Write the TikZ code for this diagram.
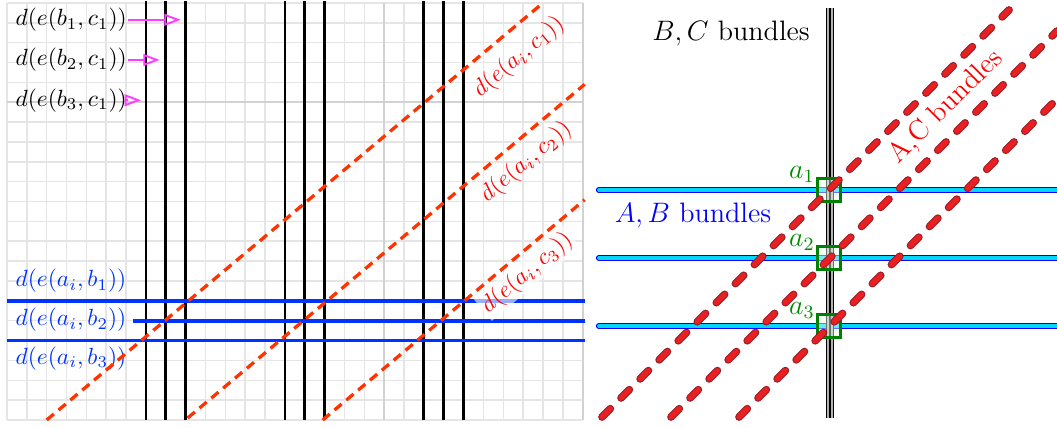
\documentclass[tikz,border=0pt]{standalone}
\usepackage{amsmath}
\usepackage{amssymb}
\usetikzlibrary{arrows.meta}

\definecolor{dashred}{RGB}{255,51,0}
\definecolor{bundleblue}{RGB}{0,51,255}
\definecolor{ptrpink}{RGB}{255,60,255}
\definecolor{acred}{RGB}{232,32,32}
\definecolor{acdark}{RGB}{150,30,45}
\definecolor{abcyan}{RGB}{0,215,255}

\tikzset{
  minorgrid/.style={gray!20, line width=0.65pt},
  majorgrid/.style={gray!35, line width=0.8pt},
  bcline/.style={black, line width=1.2pt},
  abline/.style={bundleblue, line width=1.6pt},
  acline/.style={dashred, line width=1.4pt, dash pattern=on 4pt off 2.6pt},
  ptr/.style={ptrpink, line width=0.8pt, -{Triangle[open,length=7pt,width=5pt]}, shorten >=1pt},
  lbl/.style={anchor=west, inner sep=0.5pt},
  abbundle/.style={draw=blue, double=abcyan, line width=0.55pt, double distance=1.6pt, line cap=round},
  acouter/.style={acdark, line width=3.3pt, line cap=round, dash pattern=on 5pt off 6.5pt},
  acinner/.style={acred, line width=2.3pt, line cap=round, dash pattern=on 5pt off 6.5pt},
  sqbox/.style={draw=green!50!black, fill=green!8, fill opacity=0.45, minimum size=0.345cm, inner sep=0pt, line width=0.9pt},
}

\begin{document}
\begin{tikzpicture}[x=0.015cm, y=0.015cm]
    \useasboundingbox (0,0) rectangle (1057,427);
    % left: distances on the grid
    \begin{scope}[shift={(0.105cm,0.105cm)}, x=0.29775cm, y=0.2979cm]
        \foreach \i in {0,...,29} \draw[minorgrid] (\i,0) -- (\i,21);
        \foreach \j in {0,...,21} \draw[minorgrid] (0,\j) -- (29,\j);
        \foreach \i in {9,19,29} \draw[majorgrid] (\i,0) -- (\i,21);
        \foreach \j in {6,16} \draw[majorgrid] (0,\j) -- (29,\j);
        % B,C lines
        \foreach \i in {7,8,9,14,15,16,21,22,23} \draw[bcline] (\i,0) -- (\i,21.1);
        \coordinate (v7) at (6.87,0);
        \coordinate (v8) at (7.81,0);
        \coordinate (v9) at (8.87,0);
        \coordinate (rim) at (29.1,0);
        % A,B lines
        \node[lbl, text=bundleblue] (ab1) at (0.35,7.0) {$d(e(a_i,b_1))$};
        \node[lbl, text=bundleblue] (ab2) at (0.35,5.03) {$d(e(a_i,b_2))$};
        \node[lbl, text=bundleblue] (ab3) at (0.35,3.1) {$d(e(a_i,b_3))$};
        \draw[abline] (0,6) -- (29.1,6);
        \draw[abline] ([xshift=2pt]ab2.east |- 0,5) -- (rim |- 0,5);
        \draw[abline] (0,4) -- (29.1,4);
        \node[lbl] (bc1) at (0.35,20.15) {$d(e(b_1,c_1))$};
        \node[lbl] (bc2) at (0.35,18.13) {$d(e(b_2,c_1))$};
        \node[lbl] (bc3) at (0.35,16.1) {$d(e(b_3,c_1))$};
        \draw[ptr] (bc1.east) -- (bc1.east -| v9);
        \draw[ptr] (bc2.east) -- (bc2.east -| v8);
        \draw[ptr] (bc3.east) -- (bc3.east -| v7);
        \node[text=red, rotate=40] (ac1) at (25.79,18.28) {$d(e(a_i,c_1))$};
        \node[text=red, rotate=40] (ac2) at (26.15,12.99) {$d(e(a_i,c_2))$};
        \node[text=red, rotate=40, fill=white, fill opacity=0.6, text opacity=1, inner sep=1pt] (ac3) at (26.2,7.4) {$d(e(a_i,c_3))$};
        % A,C lines
        \draw[acline] (2,0) -- (27,21);
        \draw[acline] (9.1,0.1) -- (29.1,16.9);
        \draw[acline] (15.9,0) -- (29.1,11.09);
    \end{scope}
    % right: the three bundles
    \foreach \y in {237,169,101} \draw[abbundle] (599,\y) -- (1057,\y);
    \draw[gray!60, line width=3.6pt] (830,9) -- (830,419);
    \foreach \dx in {-3.3,0,3.3} \draw[line width=0.6pt] (830+\dx,9) -- (830+\dx,419);
    \foreach \n/\y in {1/237,2/169,3/101} {
        \node[sqbox] (sq\n) at (829,\y) {};
        \node[anchor=south east, inner sep=0.5pt, yshift=-3pt, text=green!55!black, font=\large] (a\n) at (sq\n.north west) {$a_\n$};
    }
    \foreach \s/\e in {{602,10}/{1009,417}, {671,10}/{1057,396}, {739,10}/{1057,328}} {
        \draw[acouter] (\s) -- (\e);
        \draw[acinner] (\s) -- (\e);
    }
    \node[anchor=east, font=\large] (bclab) at (818,394) {$B,C$ bundles};
    \node[text=blue, font=\large] (ablab) at (693,212) {$A,B$ bundles};
    \node[text=red, font=\large, rotate=45] (aclab) at (946,320) {A,C bundles};
\end{tikzpicture}
\end{document}
